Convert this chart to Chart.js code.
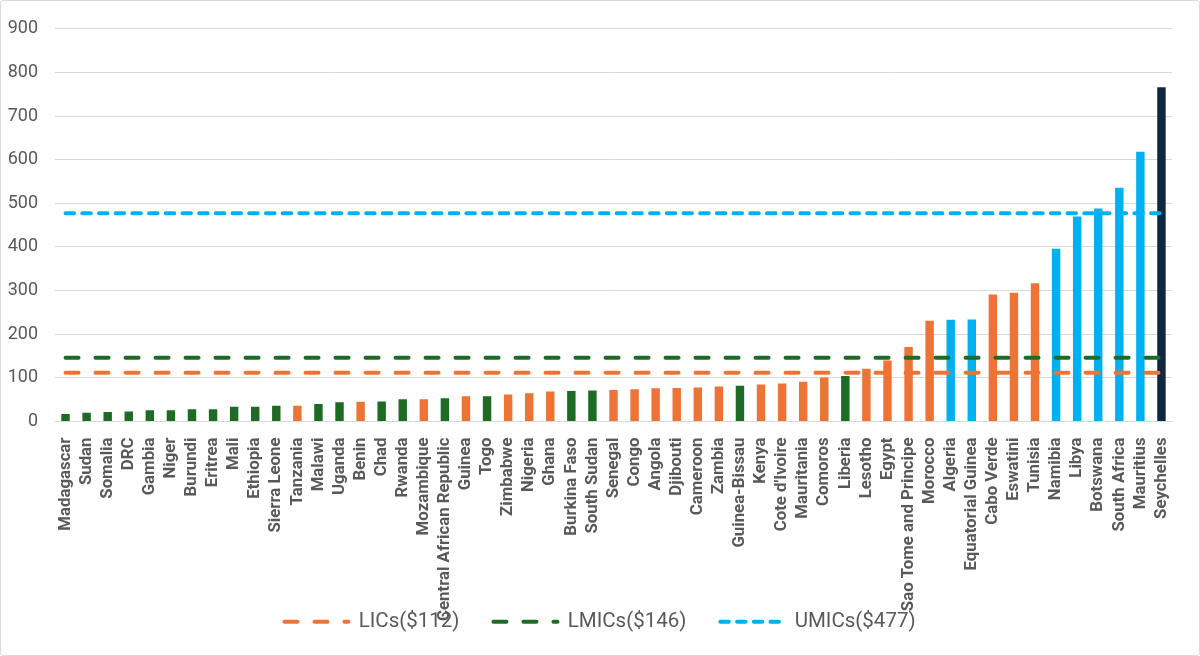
<!DOCTYPE html>
<html>
<head>
<meta charset="utf-8">
<script src="https://cdn.jsdelivr.net/npm/chart.js@4.4.1/dist/chart.umd.min.js"></script>
<style>
    html, body { margin: 0; padding: 0; background: #fff; }
    .chart-box {
        width: 1200px;
        height: 656px;
        box-sizing: border-box;
        border: 1px solid #d9d9d9;
        border-radius: 3px;
    }
</style>
</head>
<body>
<div class="chart-box"><canvas id="gdp-chart"></canvas></div>
<script>
const countries = ['Madagascar', 'Sudan', 'Somalia', 'DRC', 'Gambia', 'Niger', 'Burundi', 'Eritrea', 'Mali', 'Ethiopia',
    'Sierra Leone', 'Tanzania', 'Malawi', 'Uganda', 'Benin', 'Chad', 'Rwanda', 'Mozambique', 'Central African Republic', 'Guinea',
    'Togo', 'Zimbabwe', 'Nigeria', 'Ghana', 'Burkina Faso', 'South Sudan', 'Senegal', 'Congo', 'Angola', 'Djibouti',
    'Cameroon', 'Zambia', 'Guinea-Bissau', 'Kenya', "Cote d'Ivoire", 'Mauritania', 'Comoros', 'Liberia', 'Lesotho', 'Egypt',
    'Sao Tome and Principe', 'Morocco', 'Algeria', 'Equatorial Guinea', 'Cabo Verde', 'Eswatini', 'Tunisia', 'Namibia', 'Libya', 'Botswana',
    'South Africa', 'Mauritius', 'Seychelles'];

const values = [17, 20, 22, 23, 26, 26, 28, 28, 34, 34,
    36, 36, 40, 44, 45, 46, 51, 51, 53, 58,
    58, 62, 65, 69, 70, 71, 72, 74, 76, 77,
    78, 80, 82, 85, 87, 91, 101, 104, 121, 140,
    171, 231, 233, 234, 291, 295, 317, 396, 470, 488,
    536, 618, 766];

const incomeGroups = ['LIC', 'LIC', 'LIC', 'LIC', 'LIC', 'LIC', 'LIC', 'LIC', 'LIC', 'LIC',
    'LIC', 'LMIC', 'LIC', 'LIC', 'LMIC', 'LIC', 'LIC', 'LMIC', 'LIC', 'LMIC',
    'LIC', 'LMIC', 'LMIC', 'LMIC', 'LIC', 'LIC', 'LMIC', 'LMIC', 'LMIC', 'LMIC',
    'LMIC', 'LMIC', 'LIC', 'LMIC', 'LMIC', 'LMIC', 'LMIC', 'LIC', 'LMIC', 'LMIC',
    'LMIC', 'LMIC', 'UMIC', 'UMIC', 'LMIC', 'LMIC', 'LMIC', 'UMIC', 'UMIC', 'UMIC',
    'UMIC', 'UMIC', 'HIC'];

const thresholdLabels = ['LICs($112)', 'LMICs($146)', 'UMICs($477)'];
const thresholdValues = [112, 146, 477];

const groupColors = { LIC: '#1e6b26', LMIC: '#ed7434', UMIC: '#00b0f0', HIC: '#112640' };
const thresholdColors = ['#ed7434', '#1e6b26', '#00b0f0'];
const thresholdDash = [[13, 17], [13, 17], [8.5, 8.2]]; // round caps add the line width to each dash

const textColor = '#595959';
const fontFamily = 'Roboto, "Liberation Sans", sans-serif';

function thresholdDatasets() {
    return thresholdLabels.map((label, i) => ({
        type: 'line',
        label: label,
        data: countries.map(() => thresholdValues[i]),
        borderColor: thresholdColors[i],
        backgroundColor: thresholdColors[i],
        borderWidth: 4,
        borderDash: thresholdDash[i],
        borderCapStyle: 'round',
        pointRadius: 0,
        fill: false,
        order: 0
    }));
}

// legend keeps the dashes of the lines (default takes them from the point style)
function legendLabels(chart) {
    const items = Chart.defaults.plugins.legend.labels.generateLabels(chart);
    return items
        .filter(item => item.datasetIndex < thresholdLabels.length)
        .map(item => {
            const ds = chart.data.datasets[item.datasetIndex];
            item.lineDash = ds.borderDash;
            item.lineWidth = ds.borderWidth;
            item.lineCap = 'round';
            item.strokeStyle = ds.borderColor;
            item.fontColor = textColor;
            return item;
        });
}

const ctx = document.getElementById('gdp-chart').getContext('2d');
new Chart(ctx, {
    type: 'bar',
    data: {
        labels: countries,
        datasets: [
            ...thresholdDatasets(),
            {
                type: 'bar',
                label: 'GDP per capita',
                data: values,
                backgroundColor: incomeGroups.map(g => groupColors[g]),
                categoryPercentage: 1,
                barPercentage: 0.4,
                order: 1
            }
        ]
    },
    options: {
        responsive: true,
        maintainAspectRatio: false,
        animation: false,
        layout: {
            padding: { top: 24, right: 0, bottom: 13, left: 0 }
        },
        scales: {
            x: {
                grid: { display: false },
                border: { color: '#d9d9d9' },
                ticks: {
                    autoSkip: false,
                    maxRotation: 90,
                    minRotation: 90,
                    padding: 8,
                    color: textColor,
                    font: { family: fontFamily, size: 16.8, weight: 'bold' }
                },
                afterFit: scale => {
                    scale.height = 156;
                    // long names run into the legend, as in the original
                    scale._computeLabelArea = () => undefined;
                }
            },
            y: {
                min: 0,
                max: 900,
                border: { display: false },
                grid: { color: '#d9d9d9', drawTicks: false },
                ticks: {
                    stepSize: 100,
                    padding: 17,
                    color: textColor,
                    font: { family: fontFamily, size: 18 }
                },
                afterFit: scale => { scale.width = 54; }
            },
            // empty right margin so the legend stays centred on the whole canvas
            yRight: {
                position: 'right',
                grid: { display: false },
                border: { display: false },
                ticks: { display: false },
                afterFit: scale => { scale.width = 27; }
            }
        },
        plugins: {
            legend: {
                position: 'bottom',
                labels: {
                    generateLabels: legendLabels,
                    usePointStyle: true,
                    pointStyle: 'line',
                    pointStyleWidth: 64,
                    padding: 34,
                    color: textColor,
                    font: { family: fontFamily, size: 20.5 }
                }
            },
            tooltip: { enabled: false }
        }
    }
});
</script>
</body>
</html>
